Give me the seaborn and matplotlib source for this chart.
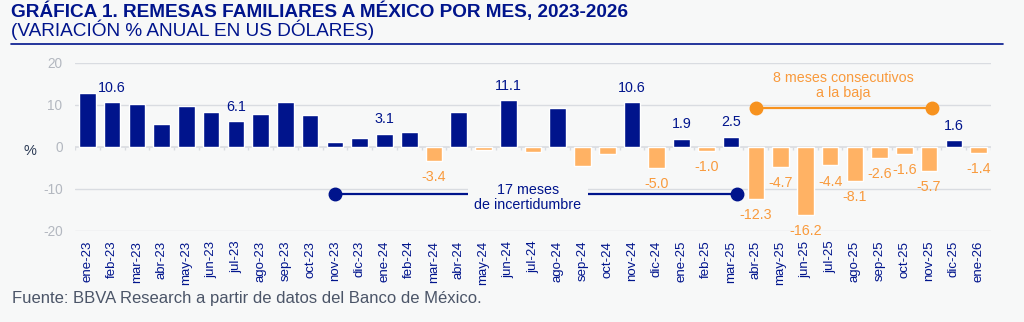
import matplotlib
matplotlib.use("Agg")
import matplotlib.pyplot as plt
import numpy as np
import pandas as pd
import seaborn as sns

# Monthly categories and annual % change of family remittances (USD)
meses = ["ene-23", "feb-23", "mar-23", "abr-23", "may-23", "jun-23", "jul-23", "ago-23",
         "sep-23", "oct-23", "nov-23", "dic-23", "ene-24", "feb-24", "mar-24", "abr-24",
         "may-24", "jun-24", "jul-24", "ago-24", "sep-24", "oct-24", "nov-24", "dic-24",
         "ene-25", "feb-25", "mar-25", "abr-25", "may-25", "jun-25", "jul-25", "ago-25",
         "sep-25", "oct-25", "nov-25", "dic-25", "ene-26"]
variacion = [12.8, 10.6, 10.2, 5.4, 9.8, 8.4, 6.1, 7.9,
             10.7, 7.7, 1.3, 2.1, 3.1, 3.6, -3.4, 8.4,
             -0.8, 11.1, -1.3, 9.4, -4.6, -1.6, 10.6, -5.0,
             1.9, -1.0, 2.5, -12.3, -4.7, -16.2, -4.4, -8.1,
             -2.6, -1.6, -5.7, 1.6, -1.4]
# Months whose value is printed next to the bar
etiquetados = ["feb-23", "jul-23", "ene-24", "mar-24", "jun-24", "nov-24", "dic-24",
               "ene-25", "feb-25", "mar-25", "abr-25", "may-25", "jun-25", "jul-25",
               "ago-25", "sep-25", "oct-25", "nov-25", "dic-25", "ene-26"]
y_ticks = [-20, -10, 0, 10, 20]

# Bracket annotations: (start month position, end month position, level)
tramo_incert = (10.0, 26.25, -11.1)
tramo_baja = (27.0, 34.1, 9.3)

NAVY = "#00148C"
ORANGE_BAR = "#FFB264"
ORANGE = "#F7921E"
ORANGE_TXT = "#F99A3C"
BG = "#F7F8F8"
GRID = "#D9DCE1"
TICKGREY = "#B3B8C0"

sns.set_theme(style="white")
plt.rcParams["font.family"] = ["Liberation Sans", "DejaVu Sans"]

df = pd.DataFrame({"mes": meses, "var": variacion})
df["signo"] = np.where(df["var"] >= 0, "pos", "neg")

fig = plt.figure(figsize=(10.24, 3.22), dpi=100, facecolor=BG)
ax = fig.add_axes([75 / 1024, 1 - 231 / 322, 916 / 1024, 168 / 322])
ax.set_facecolor(BG)

sns.barplot(data=df, x="mes", y="var", hue="signo", dodge=False,
            palette={"pos": NAVY, "neg": ORANGE_BAR}, width=0.67,
            legend=False, ax=ax, saturation=1)

ax.set_xlim(-0.5, len(meses) - 0.5)
ax.set_ylim(-20, 20)
ax.set_yticks(y_ticks)
ax.set_yticklabels([str(v) for v in y_ticks], color=TICKGREY, fontsize=9.8)
for v in y_ticks:
    if v != 0:
        ax.axhline(v, color=GRID, lw=1.0, zorder=0)
ax.axhline(0, color=GRID, lw=1.2, zorder=0.5)
# small separators between months on the zero line
xs = np.arange(len(meses) + 1) - 0.5
ax.vlines(xs, -0.75, 0, color=GRID, lw=1.0, zorder=0.5)

ax.tick_params(axis="y", length=0, pad=9)
ax.tick_params(axis="x", length=0, pad=7)
ax.set_xticks(range(len(meses)))
ax.set_xticklabels(meses, rotation=90, color=NAVY, fontsize=9.5)
ax.set_xlabel("")
ax.set_ylabel("")
for s in ax.spines.values():
    s.set_visible(False)

# value labels
for i, (m, v) in enumerate(zip(meses, variacion)):
    if m not in etiquetados:
        continue
    if v >= 0:
        ax.annotate(f"{v:.1f}", (i, v), xytext=(0, 5.5), textcoords="offset points",
                    ha="center", va="bottom", color=NAVY, fontsize=10.3,
                    annotation_clip=False)
    else:
        ax.annotate(f"{v:.1f}", (i, v), xytext=(0, -6.5), textcoords="offset points",
                    ha="center", va="top", color=ORANGE_TXT, fontsize=10.3,
                    annotation_clip=False)

# "17 meses de incertidumbre" bracket
x0, x1, yl = tramo_incert
ax.plot([x0, x1], [yl, yl], color=NAVY, lw=1.6, zorder=3)
ax.plot([x0, x1], [yl, yl], "o", color=NAVY, ms=9, zorder=4)
ax.text(17.8, yl - 1.0, "17 meses\nde incertidumbre", ha="center", va="center",
        color=NAVY, fontsize=10.3, linespacing=1.1, zorder=5,
        bbox=dict(boxstyle="square,pad=0.45", fc=BG, ec="none"))

# "8 meses consecutivos a la baja" bracket
x0, x1, yl = tramo_baja
ax.plot([x0, x1], [yl, yl], color=ORANGE, lw=1.6, zorder=3, clip_on=False)
ax.plot([x0, x1], [yl, yl], "o", color=ORANGE, ms=9, zorder=4, clip_on=False)
ax.text(30.55, 14.6, "8 meses consecutivos\na la baja", ha="center", va="center",
        color=ORANGE_TXT, fontsize=10.3, linespacing=1.1, zorder=5)

# "%" unit label
fig.text(30 / 1024, 1 - 151 / 322, "%", ha="center", va="center",
         color="#2B3A55", fontsize=10.5)

# Title block
fig.text(11 / 1024, 1 - 11.5 / 322, "GRÁFICA 1. REMESAS FAMILIARES A MÉXICO POR MES, 2023-2026",
         ha="left", va="center", color=NAVY, fontsize=13.7, fontweight="bold")
fig.text(11 / 1024, 1 - 30 / 322, "(VARIACIÓN % ANUAL EN US DÓLARES)",
         ha="left", va="center", color=NAVY, fontsize=13.7)
fig.add_artist(plt.Line2D([11 / 1024, 1003 / 1024], [1 - 43.5 / 322, 1 - 43.5 / 322],
                          color=NAVY, lw=1.2))

# Source
fig.text(12 / 1024, 1 - 299 / 322, "Fuente: BBVA Research a partir de datos del Banco de México.",
         ha="left", va="center", color="#4B5568", fontsize=12)

fig.savefig("out.png", dpi=100, facecolor=BG)
